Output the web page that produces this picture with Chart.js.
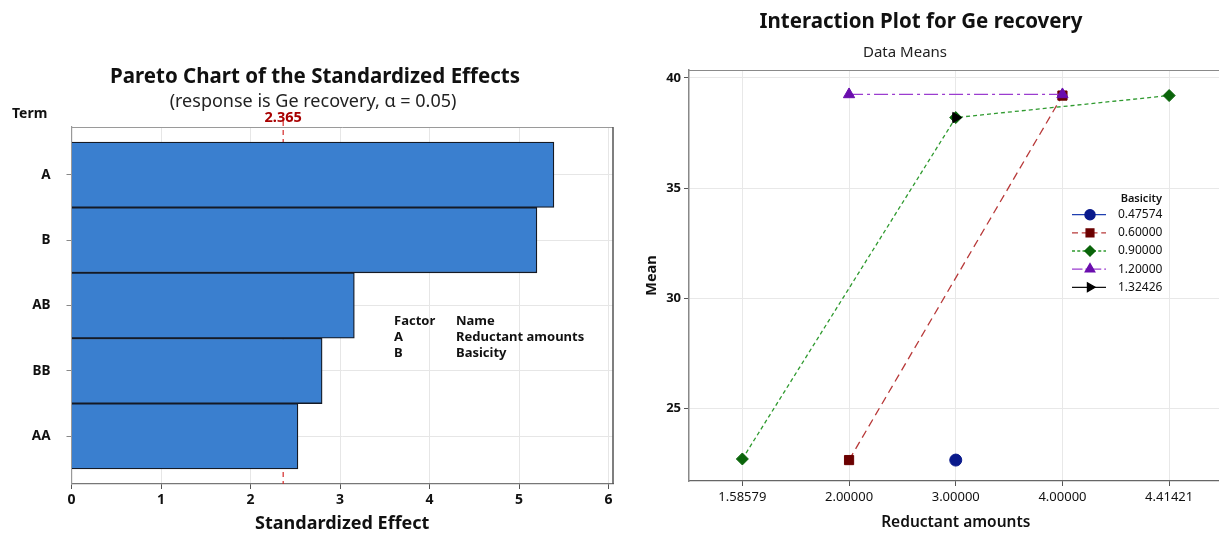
<!DOCTYPE html>
<html>
<head>
<meta charset="utf-8">
<script src="https://cdn.jsdelivr.net/npm/chart.js@4.4.1/dist/chart.umd.min.js"></script>
<style>
  html, body { margin:0; padding:0; background:#fff; width:1219px; height:535px; overflow:hidden; }
  #left { position:absolute; left:0; top:0; }
  #right { position:absolute; left:630px; top:0; }
</style>
</head>
<body>
<canvas id="left" width="630" height="535"></canvas>
<canvas id="right" width="600" height="535"></canvas>
<script>
// ---------- data: Pareto chart ----------
const terms = ['A', 'B', 'AB', 'BB', 'AA'];
const effects = [5.39, 5.20, 3.16, 2.80, 2.53];
const threshold = 2.365;
const effectTicks = [0, 1, 2, 3, 4, 5, 6];
const factorCodes = ['A', 'B'];
const factorNames = ['Reductant amounts', 'Basicity'];

// ---------- data: Interaction plot ----------
const reductantLabels = ['1.58579', '2.00000', '3.00000', '4.00000', '4.41421'];
const basicityLevels = ['0.47574', '0.60000', '0.90000', '1.20000', '1.32426'];
const mean047574 = [null, null, 22.65, null, null];
const mean060000 = [null, 22.65, null, 39.2, null];
const mean090000 = [22.7, null, 38.2, null, 39.2];
const mean120000 = [null, 39.25, null, 39.25, null];
const mean132426 = [null, null, 38.2, null, null];
const meanTicks = [25, 30, 35, 40];

const FONT = "'Noto Sans', 'Open Sans', 'DejaVu Sans', sans-serif";
Chart.defaults.font.family = FONT;
Chart.defaults.color = '#111';

// ---------- Pareto chart ----------
const paretoDecor = {
  id: 'paretoDecor',
  beforeDatasetsDraw(chart) {
    const { ctx, chartArea: a, scales: { x } } = chart;
    const px = x.getPixelForValue(threshold);
    ctx.save();
    ctx.strokeStyle = '#d42828';
    ctx.lineWidth = 1.2;
    ctx.setLineDash([5, 4]);
    ctx.beginPath();
    ctx.moveTo(px, a.top - 6);
    ctx.lineTo(px, a.bottom);
    ctx.stroke();
    ctx.restore();
  },
  afterDraw(chart) {
    const { ctx, chartArea: a, scales: { x } } = chart;
    ctx.save();
    // frame top & right
    ctx.strokeStyle = '#9a9a9a';
    ctx.lineWidth = 1;
    ctx.beginPath();
    ctx.moveTo(a.left, a.top + 0.5);
    ctx.lineTo(a.right, a.top + 0.5);
    ctx.stroke();
    ctx.strokeStyle = '#555';
    ctx.lineWidth = 1.5;
    ctx.beginPath();
    ctx.moveTo(a.right, a.top);
    ctx.lineTo(a.right, a.bottom);
    ctx.stroke();
    // titles
    ctx.fillStyle = '#111';
    ctx.textAlign = 'center';
    ctx.textBaseline = 'middle';
    ctx.font = 'bold 20.5px ' + FONT;
    ctx.fillText('Pareto Chart of the Standardized Effects', 315, 77);
    ctx.font = '18px ' + FONT;
    ctx.fillStyle = '#222';
    ctx.fillText('(response is Ge recovery, \u03b1 = 0.05)', 313, 102);
    ctx.textAlign = 'left';
    ctx.font = 'bold 14px ' + FONT;
    ctx.fillStyle = '#111';
    ctx.fillText('Term', 12, 114);
    // threshold label
    ctx.textAlign = 'center';
    ctx.fillStyle = '#a80000';
    ctx.font = 'bold 14.5px ' + FONT;
    ctx.fillText(threshold.toFixed(3), x.getPixelForValue(threshold), 118);
    // factor table
    ctx.fillStyle = '#111';
    ctx.textAlign = 'left';
    ctx.font = 'bold 13px ' + FONT;
    ctx.fillText('Factor', 394, 321);
    ctx.fillText('Name', 456, 321);
    factorCodes.forEach((c, i) => {
      ctx.fillText(c, 394, 337 + i * 16.7);
      ctx.fillText(factorNames[i], 456, 337 + i * 16.7);
    });
    ctx.restore();
  }
};

new Chart(document.getElementById('left'), {
  type: 'bar',
  data: {
    datasets: [{
      data: terms.map((t, i) => ({ x: effects[i], y: i })),
      backgroundColor: '#3a7fcf',
      borderColor: '#151a24',
      borderWidth: 1.3,
      barPercentage: 1,
      categoryPercentage: 1
    }]
  },
  options: {
    indexAxis: 'y',
    responsive: false,
    animation: false,
    layout: { padding: { top: 127, right: 17, left: 0, bottom: 0 } },
    plugins: { legend: { display: false }, tooltip: { enabled: false } },
    scales: {
      x: {
        type: 'linear', min: 0, max: 6.05, offset: false,
        afterBuildTicks: s => { s.ticks = effectTicks.map(v => ({ value: v })); },
        afterFit: s => { s.height = 51; },
        grid: { color: '#e6e6e6', tickColor: '#555', tickLength: 5, offset: false },
        border: { color: '#777', width: 1.2 },
        ticks: { color: '#111', font: { size: 14, weight: 'bold' }, padding: 3, maxRotation: 0 },
        title: { display: true, text: 'Standardized Effect', color: '#111', font: { size: 18, weight: 'bold' }, padding: { top: 0, bottom: 0 } }
      },
      y: {
        type: 'linear', min: -0.73, max: 4.73, reverse: true, offset: false,
        afterBuildTicks: s => { s.ticks = terms.map((t, i) => ({ value: i })); },
        afterFit: s => { s.width = 71.5; },
        grid: { color: '#e6e6e6', tickColor: '#888', tickLength: 5, offset: false },
        border: { color: '#999', width: 1.2 },
        ticks: { color: '#111', font: { size: 13.5, weight: 'bold' }, padding: 16, callback: v => terms[v] }
      }
    }
  },
  plugins: [paretoDecor]
});

// ---------- Interaction plot ----------
const styles = [
  { line: '#1f3fb0', point: '#0a1a8c', dash: [], style: 'circle', r: 6, rot: 0 },
  { line: '#b83a3a', point: '#6b0000', dash: [8, 5], style: 'rect', r: 6.5, rot: 0 },
  { line: '#2f9a2f', point: '#0a640a', dash: [4, 3], style: 'rectRot', r: 6, rot: 0 },
  { line: '#9b3ccf', point: '#6a0dad', dash: [14, 4, 3, 4], style: 'triangle', r: 6.5, rot: 0 },
  { line: '#111111', point: '#000000', dash: [], style: 'triangle', r: 6, rot: 90 }
];
const seriesMeans = [mean047574, mean060000, mean090000, mean120000, mean132426];

const interDecor = {
  id: 'interDecor',
  afterDraw(chart) {
    const { ctx, chartArea: a } = chart;
    ctx.save();
    ctx.strokeStyle = '#8a8a8a';
    ctx.lineWidth = 1.2;
    ctx.beginPath();
    ctx.moveTo(a.left, a.top + 0.5);
    ctx.lineTo(a.right, a.top + 0.5);
    ctx.lineTo(a.right, a.bottom);
    ctx.stroke();
    ctx.fillStyle = '#111';
    ctx.textAlign = 'center';
    ctx.textBaseline = 'middle';
    ctx.font = 'bold 20.5px ' + FONT;
    ctx.fillText('Interaction Plot for Ge recovery', 291, 22);
    ctx.font = '15px ' + FONT;
    ctx.fillStyle = '#222';
    ctx.fillText('Data Means', 275, 53);
    // legend
    ctx.fillStyle = '#111';
    ctx.textAlign = 'right';
    ctx.font = '600 11px ' + FONT;
    ctx.fillText('Basicity', 532, 199);
    ctx.textAlign = 'left';
    ctx.font = '12px ' + FONT;
    chart.data.datasets.forEach((ds, i) => {
      const y = 214.7 + i * 18.15;
      const st = styles[i];
      ctx.save();
      ctx.strokeStyle = ds.borderColor;
      ctx.lineWidth = 1.3;
      ctx.setLineDash(st.dash.length ? st.dash.map(d => d * 0.75) : []);
      ctx.beginPath();
      ctx.moveTo(442, y);
      ctx.lineTo(476, y);
      ctx.stroke();
      ctx.setLineDash([]);
      ctx.fillStyle = ds.pointBackgroundColor;
      ctx.strokeStyle = ds.pointBorderColor;
      Chart.helpers.drawPoint(ctx, { pointStyle: st.style, rotation: st.rot, radius: st.r * 0.85, borderWidth: 1 }, 460, y);
      ctx.restore();
      ctx.fillStyle = '#111';
      ctx.fillText(ds.label, 488, y);
    });
    ctx.restore();
  }
};

new Chart(document.getElementById('right'), {
  type: 'line',
  data: {
    labels: reductantLabels,
    datasets: basicityLevels.map((lvl, i) => ({
      label: lvl,
      data: seriesMeans[i],
      borderColor: styles[i].line,
      borderWidth: 1.3,
      borderDash: styles[i].dash,
      pointStyle: styles[i].style,
      pointRotation: styles[i].rot,
      pointRadius: styles[i].r,
      pointBackgroundColor: styles[i].point,
      pointBorderColor: styles[i].point,
      pointBorderWidth: 1,
      spanGaps: true,
      fill: false,
      tension: 0,
      order: 5 - i
    }))
  },
  options: {
    responsive: false,
    animation: false,
    layout: { padding: { top: 70, right: 5, left: 0, bottom: 0 } },
    plugins: { legend: { display: false }, tooltip: { enabled: false } },
    scales: {
      x: {
        type: 'category', offset: true,
        afterFit: s => { s.height = 54; },
        grid: { color: '#e8e8e8', tickColor: '#555', tickLength: 5, offset: false },
        border: { color: '#666', width: 1.2 },
        ticks: { color: '#111', font: { size: 13 }, padding: 3, maxRotation: 0, autoSkip: false },
        title: { display: true, text: 'Reductant amounts', color: '#111', font: { size: 15.5, weight: '600' }, padding: { top: 0, bottom: 3 } }
      },
      y: {
        type: 'linear', min: 21.7, max: 40.36,
        afterBuildTicks: s => { s.ticks = meanTicks.map(v => ({ value: v })); },
        afterFit: s => { s.width = 59; },
        grid: { color: '#e8e8e8', tickColor: '#555', tickLength: 5 },
        border: { color: '#888', width: 1.5 },
        ticks: { color: '#111', font: { size: 13, weight: 'bold' }, padding: 3 },
        title: { display: true, text: 'Mean', color: '#111', font: { size: 14.5, weight: 'bold' }, padding: { top: 13, bottom: 0 } }
      }
    }
  },
  plugins: [interDecor]
});
</script>
</body>
</html>
